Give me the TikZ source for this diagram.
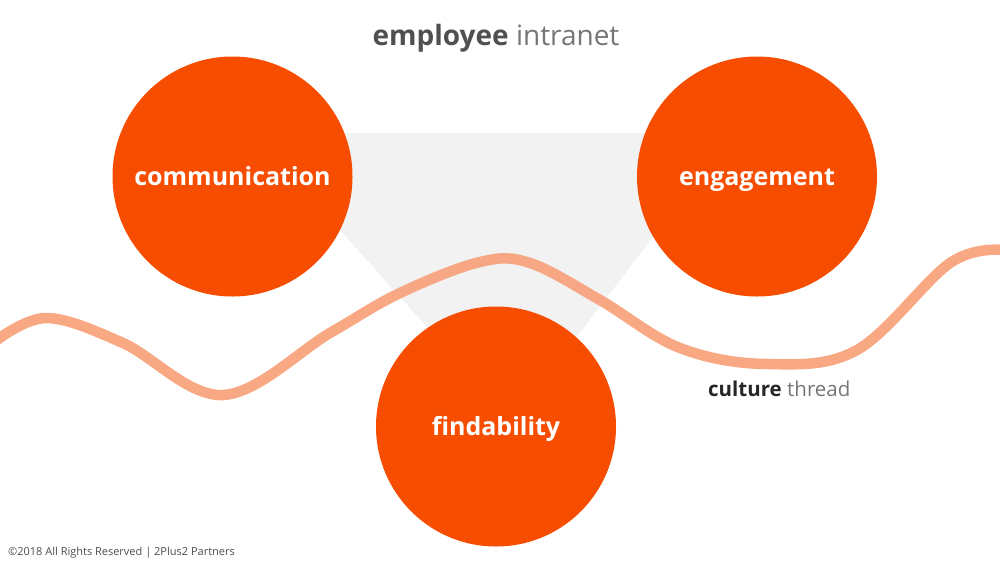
\documentclass[tikz,border=0pt]{standalone}
\usepackage{fontspec}
\setmainfont{Open Sans}
\definecolor{circ}{HTML}{F64D00}
\definecolor{wave}{HTML}{F8A17A}
\definecolor{tri}{HTML}{F2F2F2}
\definecolor{ttl}{HTML}{505050}
\definecolor{ttllight}{HTML}{767676}
\begin{document}
\begin{tikzpicture}[x=1pt,y=-1pt,
  bubble/.style={circle,fill=circ,minimum size=240pt,inner sep=0pt,text=white,
    text height=17pt,text depth=0pt,
    font=\fontsize{25}{28}\selectfont\bfseries},
  thread/.style={draw=wave,line width=10.5pt,opacity=0.92}]
\useasboundingbox (0,0) rectangle (1000,563);
\fill[tri] (253,133) -- (732,133) -- (512,422) -- cycle;
\node[bubble] (comm) at (232.5,176.5) {communication};
\node[bubble] (eng) at (757,176.5) {engagement};
\node[bubble] (find) at (496,426.5) {findability};
\draw[thread] plot[smooth,tension=0.6] coordinates {(-3,340) (47,318) (123,343) (223,395) (330,333) (400,293) (480,262) (530,263) (600,300) (680,348) (767,364) (857,350) (950,263) (1003,250)};
\node[anchor=base,inner sep=0pt] (title) at (496,45) {\fontsize{28}{32}\selectfont{\color{ttl}\bfseries employee} {\color{ttllight}intranet}};
\node[anchor=base west,inner sep=0pt] (culture) at (708,396) {\fontsize{20.5}{24}\selectfont{\color{black!85}\bfseries culture} {\color{ttllight}thread}};
\node[anchor=base west,inner sep=0pt,text=black!70] (copy) at (8,555) {\fontsize{11}{13}\selectfont ©2018 All Rights Reserved | 2Plus2 Partners};
\end{tikzpicture}
\end{document}
